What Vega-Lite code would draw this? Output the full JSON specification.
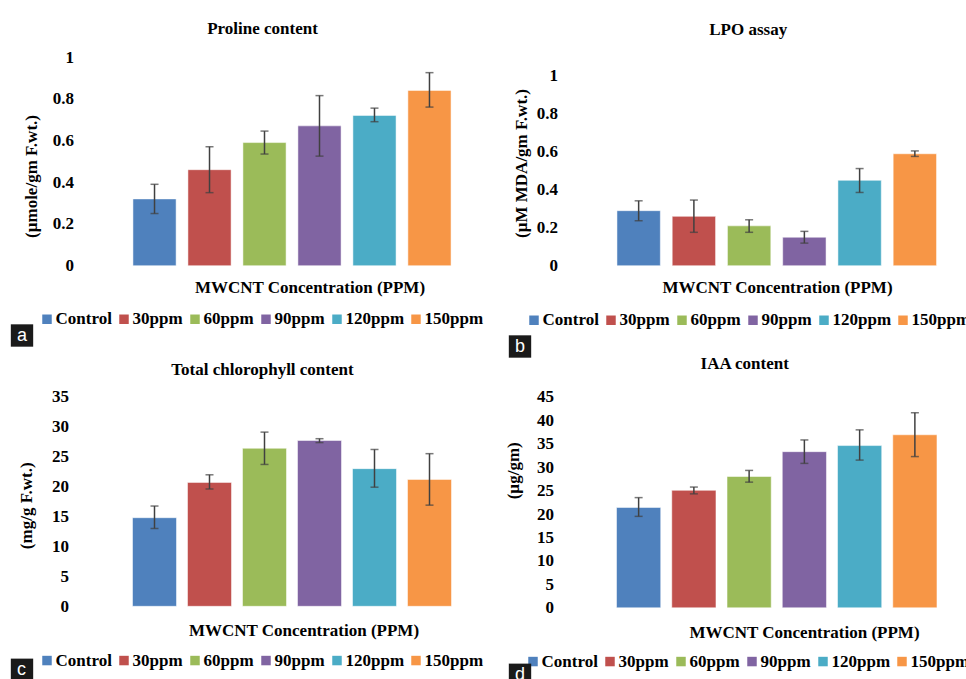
{
"$schema": "https://vega.github.io/schema/vega-lite/v6.json",
"padding": {"left": 10, "top": 20, "right": 0, "bottom": 0},
"background": "white",
"columns": 2,
"bounds": "flush",
"align": "all",
"spacing": {"row": 128.8, "column": 152},
"resolve": {
  "scale": {"x": "independent", "y": "independent", "color": "independent", "shape": "independent"},
  "legend": {"color": "independent", "shape": "independent"}
},
"concat": [
{
  "width": 330, "height": 208.7,
  "title": {"text": "Proline content", "dx": -29.5, "offset": 10},
  "data": {"values": [
    {"conc": "Control", "value": 0.32, "lo": 0.25, "hi": 0.39, "panel": "a"},
    {"conc": "30ppm", "value": 0.46, "lo": 0.35, "hi": 0.57, "panel": "a"},
    {"conc": "60ppm", "value": 0.59, "lo": 0.535, "hi": 0.645, "panel": "a"},
    {"conc": "90ppm", "value": 0.67, "lo": 0.525, "hi": 0.815, "panel": "a"},
    {"conc": "120ppm", "value": 0.72, "lo": 0.69, "hi": 0.755, "panel": "a"},
    {"conc": "150ppm", "value": 0.84, "lo": 0.76, "hi": 0.925, "panel": "a"}
  ]},
  "layer": [
    {"mark": {"type": "bar", "stroke": "#ffffff", "strokeOpacity": 0.5, "strokeWidth": 1},
     "encoding": {
       "x": {"field": "conc", "type": "nominal", "sort": ["Control","30ppm","60ppm","90ppm","120ppm","150ppm"], "scale": {"paddingInner": 0.215, "paddingOuter": 0.108}, "axis": {"title": "MWCNT Concentration (PPM)", "labels": false, "titleX": 182.5, "titlePadding": 14}},
       "y": {"field": "value", "type": "quantitative", "scale": {"domain": [0, 1], "nice": false}, "axis": {"title": "(µmole/gm F.wt.)", "values": [0, 0.2, 0.4, 0.6, 0.8, 1], "format": ".1~f", "labelPadding": 53.5, "titlePadding": 12, "titleY": 119}},
       "color": {"field": "conc", "type": "nominal", "sort": ["Control","30ppm","60ppm","90ppm","120ppm","150ppm"], "scale": {"domain": ["Control","30ppm","60ppm","90ppm","120ppm","150ppm"], "range": ["#4F81BD","#C0504D","#9BBB59","#8064A2","#4BACC6","#F79646"]}, "legend": {"orient": "none", "legendX": -88.5, "legendY": 253.5, "title": null}}
     }},
    {"mark": {"type": "errorbar", "color": "#404040", "thickness": 1.5, "ticks": {"size": 8, "thickness": 1.5}},
     "encoding": {
       "x": {"field": "conc", "type": "nominal", "sort": ["Control","30ppm","60ppm","90ppm","120ppm","150ppm"]},
       "y": {"field": "lo", "type": "quantitative", "scale": {"domain": [0, 1], "nice": false}, "axis": {"title": "(µmole/gm F.wt.)", "values": [0, 0.2, 0.4, 0.6, 0.8, 1], "format": ".1~f", "labelPadding": 53.5, "titlePadding": 12, "titleY": 119}},
       "y2": {"field": "hi"}
     }},
    {"mark": {"type": "point", "opacity": 0, "filled": true, "color": "#1a1a1a"},
     "encoding": {
       "x": {"field": "conc", "type": "nominal", "sort": ["Control","30ppm","60ppm","90ppm","120ppm","150ppm"]},
       "y": {"field": "value", "type": "quantitative", "scale": {"domain": [0, 1], "nice": false}, "axis": {"title": "(µmole/gm F.wt.)", "values": [0, 0.2, 0.4, 0.6, 0.8, 1], "format": ".1~f", "labelPadding": 53.5, "titlePadding": 12, "titleY": 119}},
       "shape": {"field": "panel", "type": "nominal", "scale": {"range": ["square"]}, "legend": {"orient": "none", "legendX": -116.5, "legendY": 267, "title": null, "symbolSize": 500, "symbolOpacity": 1, "symbolFillColor": "#1a1a1a", "symbolStrokeWidth": 0, "labelColor": "#ffffff", "labelFont": "Liberation Sans", "labelFontWeight": "normal", "labelFontSize": 18, "labelOffset": -16.5}}
     }}
  ]
},
{
  "width": 331.5, "height": 208.7,
  "title": {"text": "LPO assay", "dx": -28.5, "offset": 18.5},
  "data": {"values": [
    {"conc": "Control", "value": 0.29, "lo": 0.237, "hi": 0.342, "panel": "b"},
    {"conc": "30ppm", "value": 0.26, "lo": 0.176, "hi": 0.346, "panel": "b"},
    {"conc": "60ppm", "value": 0.21, "lo": 0.176, "hi": 0.242, "panel": "b"},
    {"conc": "90ppm", "value": 0.15, "lo": 0.119, "hi": 0.181, "panel": "b"},
    {"conc": "120ppm", "value": 0.45, "lo": 0.386, "hi": 0.512, "panel": "b"},
    {"conc": "150ppm", "value": 0.59, "lo": 0.576, "hi": 0.605, "panel": "b"}
  ]},
  "layer": [
    {"mark": {"type": "bar", "stroke": "#ffffff", "strokeOpacity": 0.5, "strokeWidth": 1},
     "encoding": {
       "x": {"field": "conc", "type": "nominal", "sort": ["Control","30ppm","60ppm","90ppm","120ppm","150ppm"], "scale": {"paddingInner": 0.215, "paddingOuter": 0.108}, "axis": {"title": "MWCNT Concentration (PPM)", "labels": false, "titleX": 166, "titlePadding": 14}},
       "y": {"field": "value", "type": "quantitative", "scale": {"domain": [0, 1.1], "nice": false}, "axis": {"title": "(µM MDA/gm F.wt.)", "values": [0, 0.2, 0.4, 0.6, 0.8, 1], "format": ".1~f", "labelPadding": 53.5, "titlePadding": 6, "titleY": 106}},
       "color": {"field": "conc", "type": "nominal", "sort": ["Control","30ppm","60ppm","90ppm","120ppm","150ppm"], "scale": {"domain": ["Control","30ppm","60ppm","90ppm","120ppm","150ppm"], "range": ["#4F81BD","#C0504D","#9BBB59","#8064A2","#4BACC6","#F79646"]}, "legend": {"orient": "none", "legendX": -85.5, "legendY": 254.5, "title": null}}
     }},
    {"mark": {"type": "errorbar", "color": "#404040", "thickness": 1.5, "ticks": {"size": 8, "thickness": 1.5}},
     "encoding": {
       "x": {"field": "conc", "type": "nominal", "sort": ["Control","30ppm","60ppm","90ppm","120ppm","150ppm"]},
       "y": {"field": "lo", "type": "quantitative", "scale": {"domain": [0, 1.1], "nice": false}, "axis": {"title": "(µM MDA/gm F.wt.)", "values": [0, 0.2, 0.4, 0.6, 0.8, 1], "format": ".1~f", "labelPadding": 53.5, "titlePadding": 6, "titleY": 106}},
       "y2": {"field": "hi"}
     }},
    {"mark": {"type": "point", "opacity": 0, "filled": true, "color": "#1a1a1a"},
     "encoding": {
       "x": {"field": "conc", "type": "nominal", "sort": ["Control","30ppm","60ppm","90ppm","120ppm","150ppm"]},
       "y": {"field": "value", "type": "quantitative", "scale": {"domain": [0, 1.1], "nice": false}, "axis": {"title": "(µM MDA/gm F.wt.)", "values": [0, 0.2, 0.4, 0.6, 0.8, 1], "format": ".1~f", "labelPadding": 53.5, "titlePadding": 6, "titleY": 106}},
       "shape": {"field": "panel", "type": "nominal", "scale": {"range": ["square"]}, "legend": {"orient": "none", "legendX": -102.5, "legendY": 278, "title": null, "symbolSize": 500, "symbolOpacity": 1, "symbolFillColor": "#1a1a1a", "symbolStrokeWidth": 0, "labelColor": "#ffffff", "labelFont": "Liberation Sans", "labelFontWeight": "normal", "labelFontSize": 18, "labelOffset": -16.5}}
     }}
  ]
},
{
  "width": 330, "height": 209.5,
  "title": {"text": "Total chlorophyll content", "dx": -29.5, "offset": 9},
  "data": {"values": [
    {"conc": "Control", "value": 14.8, "lo": 13.0, "hi": 16.75, "panel": "c"},
    {"conc": "30ppm", "value": 20.7, "lo": 19.6, "hi": 21.97, "panel": "c"},
    {"conc": "60ppm", "value": 26.4, "lo": 23.7, "hi": 29.1, "panel": "c"},
    {"conc": "90ppm", "value": 27.7, "lo": 27.35, "hi": 28.0, "panel": "c"},
    {"conc": "120ppm", "value": 23.0, "lo": 19.9, "hi": 26.2, "panel": "c"},
    {"conc": "150ppm", "value": 21.2, "lo": 16.9, "hi": 25.5, "panel": "c"}
  ]},
  "layer": [
    {"mark": {"type": "bar", "stroke": "#ffffff", "strokeOpacity": 0.5, "strokeWidth": 1},
     "encoding": {
       "x": {"field": "conc", "type": "nominal", "sort": ["Control","30ppm","60ppm","90ppm","120ppm","150ppm"], "scale": {"paddingInner": 0.2, "paddingOuter": 0.1}, "axis": {"title": "MWCNT Concentration (PPM)", "labels": false, "titleX": 176.5, "titlePadding": 16}},
       "y": {"field": "value", "type": "quantitative", "scale": {"domain": [0, 35], "nice": false}, "axis": {"title": "(mg/g F.wt.)", "values": [0, 5, 10, 15, 20, 25, 30, 35], "format": "d", "labelPadding": 58.5, "titlePadding": 16, "titleY": 108.5}},
       "color": {"field": "conc", "type": "nominal", "sort": ["Control","30ppm","60ppm","90ppm","120ppm","150ppm"], "scale": {"domain": ["Control","30ppm","60ppm","90ppm","120ppm","150ppm"], "range": ["#4F81BD","#C0504D","#9BBB59","#8064A2","#4BACC6","#F79646"]}, "legend": {"orient": "none", "legendX": -88.5, "legendY": 255, "title": null}}
     }},
    {"mark": {"type": "errorbar", "color": "#404040", "thickness": 1.5, "ticks": {"size": 8, "thickness": 1.5}},
     "encoding": {
       "x": {"field": "conc", "type": "nominal", "sort": ["Control","30ppm","60ppm","90ppm","120ppm","150ppm"]},
       "y": {"field": "lo", "type": "quantitative", "scale": {"domain": [0, 35], "nice": false}, "axis": {"title": "(mg/g F.wt.)", "values": [0, 5, 10, 15, 20, 25, 30, 35], "format": "d", "labelPadding": 58.5, "titlePadding": 16, "titleY": 108.5}},
       "y2": {"field": "hi"}
     }},
    {"mark": {"type": "point", "opacity": 0, "filled": true, "color": "#1a1a1a"},
     "encoding": {
       "x": {"field": "conc", "type": "nominal", "sort": ["Control","30ppm","60ppm","90ppm","120ppm","150ppm"]},
       "y": {"field": "value", "type": "quantitative", "scale": {"domain": [0, 35], "nice": false}, "axis": {"title": "(mg/g F.wt.)", "values": [0, 5, 10, 15, 20, 25, 30, 35], "format": "d", "labelPadding": 58.5, "titlePadding": 16, "titleY": 108.5}},
       "shape": {"field": "panel", "type": "nominal", "scale": {"range": ["square"]}, "legend": {"orient": "none", "legendX": -116.5, "legendY": 261.5, "title": null, "symbolSize": 500, "symbolOpacity": 1, "symbolFillColor": "#1a1a1a", "symbolStrokeWidth": 0, "labelColor": "#ffffff", "labelFont": "Liberation Sans", "labelFontWeight": "normal", "labelFontSize": 18, "labelOffset": -16.5}}
     }}
  ]
},
{
  "width": 331.5, "height": 211,
  "title": {"text": "IAA content", "dx": -32, "offset": 15},
  "data": {"values": [
    {"conc": "Control", "value": 21.4, "lo": 19.5, "hi": 23.5, "panel": "d"},
    {"conc": "30ppm", "value": 25.05, "lo": 24.3, "hi": 25.75, "panel": "d"},
    {"conc": "60ppm", "value": 28.0, "lo": 26.8, "hi": 29.3, "panel": "d"},
    {"conc": "90ppm", "value": 33.3, "lo": 30.8, "hi": 35.8, "panel": "d"},
    {"conc": "120ppm", "value": 34.6, "lo": 31.5, "hi": 37.95, "panel": "d"},
    {"conc": "150ppm", "value": 36.9, "lo": 32.25, "hi": 41.6, "panel": "d"}
  ]},
  "layer": [
    {"mark": {"type": "bar", "stroke": "#ffffff", "strokeOpacity": 0.5, "strokeWidth": 1},
     "encoding": {
       "x": {"field": "conc", "type": "nominal", "sort": ["Control","30ppm","60ppm","90ppm","120ppm","150ppm"], "scale": {"paddingInner": 0.2, "paddingOuter": 0.1}, "axis": {"title": "MWCNT Concentration (PPM)", "labels": false, "titleX": 193, "titlePadding": 16.5}},
       "y": {"field": "value", "type": "quantitative", "scale": {"domain": [0, 45], "nice": false}, "axis": {"title": "(µg/gm)", "values": [0, 5, 10, 15, 20, 25, 30, 35, 40, 45], "format": "d", "labelPadding": 57.5, "titlePadding": 14, "titleY": 73.5}},
       "color": {"field": "conc", "type": "nominal", "sort": ["Control","30ppm","60ppm","90ppm","120ppm","150ppm"], "scale": {"domain": ["Control","30ppm","60ppm","90ppm","120ppm","150ppm"], "range": ["#4F81BD","#C0504D","#9BBB59","#8064A2","#4BACC6","#F79646"]}, "legend": {"orient": "none", "legendX": -86.5, "legendY": 256, "title": null}}
     }},
    {"mark": {"type": "errorbar", "color": "#404040", "thickness": 1.5, "ticks": {"size": 8, "thickness": 1.5}},
     "encoding": {
       "x": {"field": "conc", "type": "nominal", "sort": ["Control","30ppm","60ppm","90ppm","120ppm","150ppm"]},
       "y": {"field": "lo", "type": "quantitative", "scale": {"domain": [0, 45], "nice": false}, "axis": {"title": "(µg/gm)", "values": [0, 5, 10, 15, 20, 25, 30, 35, 40, 45], "format": "d", "labelPadding": 57.5, "titlePadding": 14, "titleY": 73.5}},
       "y2": {"field": "hi"}
     }},
    {"mark": {"type": "point", "opacity": 0, "filled": true, "color": "#1a1a1a"},
     "encoding": {
       "x": {"field": "conc", "type": "nominal", "sort": ["Control","30ppm","60ppm","90ppm","120ppm","150ppm"]},
       "y": {"field": "value", "type": "quantitative", "scale": {"domain": [0, 45], "nice": false}, "axis": {"title": "(µg/gm)", "values": [0, 5, 10, 15, 20, 25, 30, 35, 40, 45], "format": "d", "labelPadding": 57.5, "titlePadding": 14, "titleY": 73.5}},
       "shape": {"field": "panel", "type": "nominal", "scale": {"range": ["square"]}, "legend": {"orient": "none", "legendX": -102.5, "legendY": 266.5, "title": null, "symbolSize": 500, "symbolOpacity": 1, "symbolFillColor": "#1a1a1a", "symbolStrokeWidth": 0, "labelColor": "#ffffff", "labelFont": "Liberation Sans", "labelFontWeight": "normal", "labelFontSize": 18, "labelOffset": -16.5}}
     }}
  ]
}
],
"config": {
  "view": {"stroke": null},
  "font": "Liberation Serif",
  "axis": {"labelFont": "Liberation Serif", "labelFontSize": 17, "labelFontWeight": "bold", "labelColor": "#000000", "titleFont": "Liberation Serif", "titleFontSize": 17, "titleFontWeight": "bold", "titleColor": "#000000", "grid": false, "domain": false, "ticks": false, "labelFlush": false, "labelOverlap": false},
  "legend": {"direction": "horizontal", "labelFont": "Liberation Serif", "labelFontSize": 17, "labelFontWeight": "bold", "labelColor": "#000000", "symbolType": "square", "symbolSize": 90, "symbolStrokeWidth": 0, "labelOffset": 0, "columnPadding": 3, "padding": 0, "labelLimit": 300},
  "title": {"font": "Liberation Serif", "fontSize": 17, "fontWeight": "bold", "color": "#000000", "anchor": "middle"}
}
}
